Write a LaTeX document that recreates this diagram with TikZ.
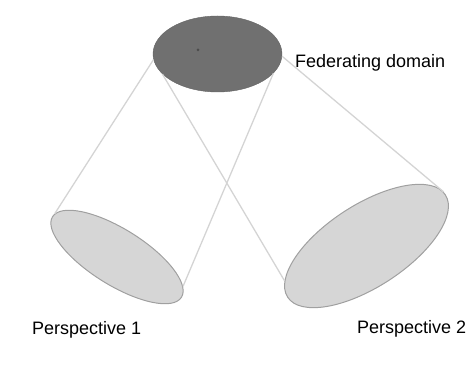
\documentclass[tikz,border=0pt]{standalone}
\usepackage{fontspec}
\setmainfont{Liberation Sans}
\usetikzlibrary{shapes.geometric}
\definecolor{topfill}{RGB}{112,112,112}
\definecolor{topedge}{RGB}{100,100,100}
\definecolor{lightfill}{RGB}{214,214,214}
\definecolor{lightedge}{RGB}{160,160,160}
\definecolor{conecol}{RGB}{212,212,212}
\begin{document}
\begin{tikzpicture}[x=1pt,y=1pt,
 dom/.style={ellipse, draw=topedge, fill=topfill, inner sep=0pt, minimum width=129pt, minimum height=76pt},
 persp/.style={ellipse, draw=lightedge, line width=1pt, fill=lightfill, inner sep=0pt},
 cone/.style={draw=conecol, line width=1.3pt},
 lbl/.style={anchor=base west, inner sep=0pt, font=\fontsize{18}{21}\selectfont}]
\useasboundingbox (0,0) rectangle (467,-379);
\node[dom] (top) at (217.5,-54) {};
\node[circle, fill=black!70, inner sep=0pt, minimum size=3pt] (dot) at (198,-50) {};
\node[persp, minimum width=152pt, minimum height=56pt, rotate=-32] (p1) at (117,-257) {};
\node[persp, minimum width=188pt, minimum height=82pt, rotate=33] (p2) at (366.5,-246) {};
\draw[cone] (top.185) -- (p1.177);
\draw[cone] (top.341) -- (p1.8);
\draw[cone] (top.200) -- (p2.170);
\draw[cone] (top.358) -- (p2.2);
\node[lbl] (fd) at (295,-68) {Federating domain};
\node[lbl] (l1) at (32,-335) {Perspective 1};
\node[lbl] (l2) at (357,-334) {Perspective 2};
\end{tikzpicture}
\end{document}
